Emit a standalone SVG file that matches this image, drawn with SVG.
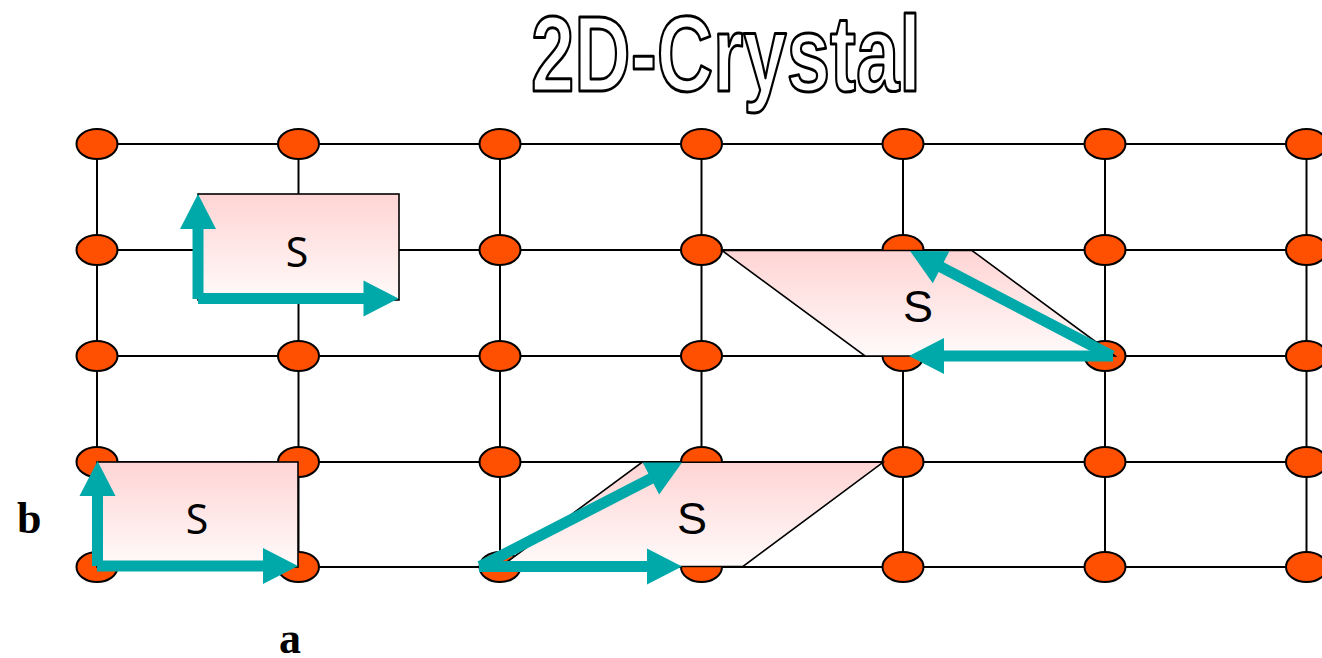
<svg xmlns="http://www.w3.org/2000/svg" width="1322" height="658" viewBox="0 0 1322 658">
  <style>
    .grid line { stroke: #000; stroke-width: 2; }
    .atom { fill: #FF4F00; stroke: #000; stroke-width: 2; }
    .cell { fill: url(#pink); stroke: #000; stroke-width: 1.6; }
    .vec { stroke: #00A9A9; stroke-width: 11; fill: none; marker-end: url(#head); }
    .lbl { font-family: "Liberation Serif", "Times New Roman", serif; font-weight: bold; font-size: 44px; fill: #000; }
    .s1 { font-family: "Noto Sans", "Open Sans", sans-serif; font-size: 41px; fill: #000; text-anchor: middle; }
    .s2 { font-family: "Liberation Sans", Arial, sans-serif; font-size: 45px; fill: #000; text-anchor: middle; }
    .title { font-family: "Liberation Sans", Arial, sans-serif; font-weight: bold; font-size: 108px; fill: #fff; stroke: #000; stroke-width: 3; stroke-linejoin: round; }
  </style>
  <defs>
    <linearGradient id="pink" x1="0" y1="0" x2="0" y2="1">
      <stop offset="0" stop-color="#FFD4D4"/>
      <stop offset="1" stop-color="#FFFAFA"/>
    </linearGradient>
    <marker id="head" markerUnits="userSpaceOnUse" markerWidth="36" markerHeight="36" viewBox="0 -18 35 36" refX="1" refY="0" orient="auto" overflow="visible">
      <path d="M0,-18 L35,0 L0,18 z" fill="#00A9A9"/>
    </marker>
  </defs>

  <!-- title -->
  <text class="title" x="531" y="91" textLength="390" lengthAdjust="spacingAndGlyphs">2D-Crystal</text>

  <!-- lattice bonds -->
  <g id="connectors" class="grid">
    <line x1="97" y1="144" x2="1322" y2="144"/>
    <line x1="97" y1="250" x2="1322" y2="250"/>
    <line x1="97" y1="356" x2="1322" y2="356"/>
    <line x1="97" y1="462" x2="1322" y2="462"/>
    <line x1="97" y1="567" x2="1322" y2="567"/>
    <line x1="97" y1="144" x2="97" y2="567"/>
    <line x1="298.5" y1="144" x2="298.5" y2="567"/>
    <line x1="500" y1="144" x2="500" y2="567"/>
    <line x1="701.5" y1="144" x2="701.5" y2="567"/>
    <line x1="903" y1="144" x2="903" y2="567"/>
    <line x1="1105" y1="144" x2="1105" y2="567"/>
    <line x1="1306.5" y1="144" x2="1306.5" y2="567"/>
  </g>

  <!-- lattice atoms -->
  <g id="atoms">
    <g id="row0">
      <ellipse class="atom" cx="97" cy="144" rx="20.5" ry="15"/>
      <ellipse class="atom" cx="298.5" cy="144" rx="20.5" ry="15"/>
      <ellipse class="atom" cx="500" cy="144" rx="20.5" ry="15"/>
      <ellipse class="atom" cx="701.5" cy="144" rx="20.5" ry="15"/>
      <ellipse class="atom" cx="903" cy="144" rx="20.5" ry="15"/>
      <ellipse class="atom" cx="1105" cy="144" rx="20.5" ry="15"/>
      <ellipse class="atom" cx="1306.5" cy="144" rx="20.5" ry="15"/>
    </g>
    <g id="row1">
      <ellipse class="atom" cx="97" cy="250" rx="20.5" ry="15"/>
      <ellipse class="atom" cx="298.5" cy="250" rx="20.5" ry="15"/>
      <ellipse class="atom" cx="500" cy="250" rx="20.5" ry="15"/>
      <ellipse class="atom" cx="701.5" cy="250" rx="20.5" ry="15"/>
      <ellipse class="atom" cx="903" cy="250" rx="20.5" ry="15"/>
      <ellipse class="atom" cx="1105" cy="250" rx="20.5" ry="15"/>
      <ellipse class="atom" cx="1306.5" cy="250" rx="20.5" ry="15"/>
    </g>
    <g id="row2">
      <ellipse class="atom" cx="97" cy="356" rx="20.5" ry="15"/>
      <ellipse class="atom" cx="298.5" cy="356" rx="20.5" ry="15"/>
      <ellipse class="atom" cx="500" cy="356" rx="20.5" ry="15"/>
      <ellipse class="atom" cx="701.5" cy="356" rx="20.5" ry="15"/>
      <ellipse class="atom" cx="903" cy="356" rx="20.5" ry="15"/>
      <ellipse class="atom" cx="1105" cy="356" rx="20.5" ry="15"/>
      <ellipse class="atom" cx="1306.5" cy="356" rx="20.5" ry="15"/>
    </g>
    <g id="row3">
      <ellipse class="atom" cx="97" cy="462" rx="20.5" ry="15"/>
      <ellipse class="atom" cx="298.5" cy="462" rx="20.5" ry="15"/>
      <ellipse class="atom" cx="500" cy="462" rx="20.5" ry="15"/>
      <ellipse class="atom" cx="701.5" cy="462" rx="20.5" ry="15"/>
      <ellipse class="atom" cx="903" cy="462" rx="20.5" ry="15"/>
      <ellipse class="atom" cx="1105" cy="462" rx="20.5" ry="15"/>
      <ellipse class="atom" cx="1306.5" cy="462" rx="20.5" ry="15"/>
    </g>
    <g id="row4">
      <ellipse class="atom" cx="97" cy="567" rx="20.5" ry="15"/>
      <ellipse class="atom" cx="298.5" cy="567" rx="20.5" ry="15"/>
      <ellipse class="atom" cx="500" cy="567" rx="20.5" ry="15"/>
      <ellipse class="atom" cx="701.5" cy="567" rx="20.5" ry="15"/>
      <ellipse class="atom" cx="903" cy="567" rx="20.5" ry="15"/>
      <ellipse class="atom" cx="1105" cy="567" rx="20.5" ry="15"/>
      <ellipse class="atom" cx="1306.5" cy="567" rx="20.5" ry="15"/>
    </g>
  </g>

  <!-- unit cell: rectangle, upper left -->
  <g id="cell-rect-top">
    <rect class="cell" x="198" y="194" width="201" height="106"/>
    <text class="s1" x="297" y="267">S</text>
    <line class="vec" x1="198" y1="299" x2="198" y2="228"/>
    <line class="vec" x1="198" y1="298.5" x2="364.5" y2="298.5"/>
  </g>

  <!-- unit cell: rectangle, lower left -->
  <g id="cell-rect-bottom">
    <rect class="cell" x="97" y="462" width="201" height="105"/>
    <text class="s1" x="197" y="534">S</text>
    <line class="vec" x1="97.5" y1="566" x2="97.5" y2="495"/>
    <line class="vec" x1="97" y1="566" x2="264" y2="566"/>
  </g>

  <!-- unit cell: oblique, upper right -->
  <g id="cell-oblique-top">
    <polygon class="cell" points="722,250.5 972,250.5 1115,356 865,356"/>
    <text class="s2" x="918" y="322">S</text>
    <line class="vec" x1="1113" y1="356" x2="943" y2="356"/>
    <line class="vec" x1="1112" y1="356" x2="940.2" y2="266.7"/>
  </g>

  <!-- unit cell: oblique, lower middle -->
  <g id="cell-oblique-bottom">
    <polygon class="cell" points="501,566.5 743,566.5 883,462.3 642,462.3"/>
    <text class="s2" x="692" y="534">S</text>
    <line class="vec" x1="479" y1="566.5" x2="648" y2="566.5"/>
    <line class="vec" x1="480" y1="566.5" x2="651.8" y2="478.1"/>
  </g>

  <!-- axis labels -->
  <g id="axis-labels">
    <text class="lbl" x="17" y="533">b</text>
    <text class="lbl" x="279" y="653">a</text>
  </g>
</svg>
